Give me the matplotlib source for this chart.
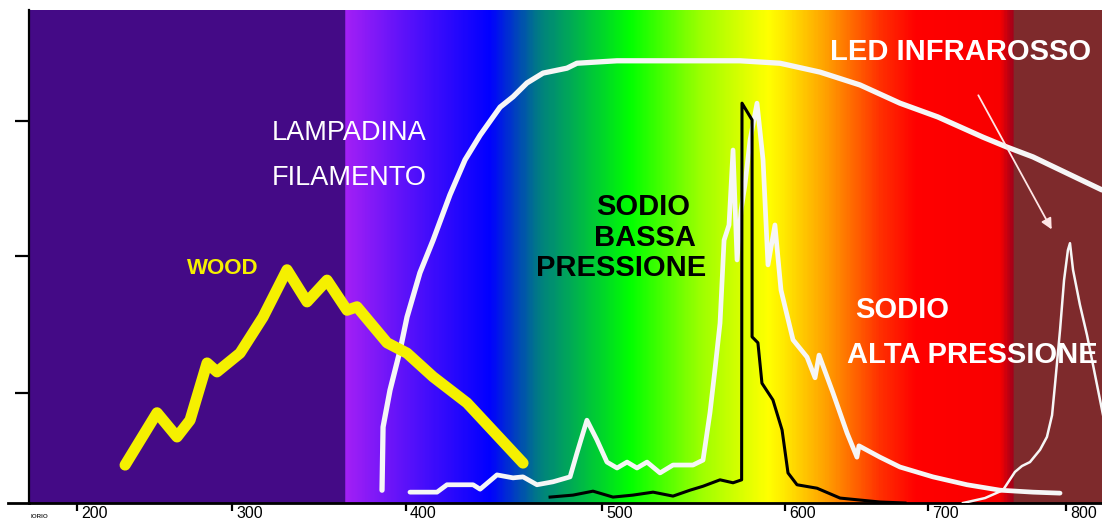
import numpy as np
import matplotlib
matplotlib.use('Agg')
import matplotlib.pyplot as plt
from matplotlib.colors import LinearSegmentedColormap, Normalize
from matplotlib.lines import Line2D
from matplotlib.transforms import ScaledTranslation

plt.rcParams['font.family'] = ['Liberation Sans', 'DejaVu Sans']

# wavelength axis of the drawing is not linear: tick values and where they sit
tick_nm = [200, 300, 400, 500, 600, 700, 800]
tick_labels = ['200', '300', '400', '500', '600', '700', '800']
tick_pos = [77, 232, 406, 602, 785, 928, 1066]

# spectra (nm, relative intensity 0..100)
wood_nm = [231.0, 251.6, 264.5, 272.9, 283.9, 290.3, 304.6, 317.8, 331.6, 343.1,
           354.6, 366.1, 371.8, 389.1, 400.5, 413.8, 431.1, 459.7]
wood_val = [7.7, 18.3, 13.4, 16.8, 28.4, 26.6, 30.4, 37.7, 47.3, 40.8,
            45.2, 39.1, 39.8, 32.5, 30.4, 25.6, 20.3, 8.1]

lampadina_nm = [386.2, 386.8, 390.8, 396.6, 400.5, 407.1, 413.8, 422.4, 430.1, 437.8,
                444.4, 448.0, 454.6, 461.7, 469.9, 482.1, 487.2, 508.2, 553.6, 575.4,
                597.3, 624.5, 652.4, 680.4, 707.2, 739.9, 757.2, 776.1, 800.7, 826.1]
lampadina_val = [2.6, 15.4, 22.9, 31.0, 37.7, 46.7, 53.3, 62.5, 69.6, 74.6,
                 78.3, 80.3, 82.4, 85.2, 87.2, 88.2, 89.2, 89.7, 89.7, 89.7,
                 89.2, 87.4, 84.8, 81.1, 78.3, 74.2, 72.2, 70.2, 66.9, 63.5]

sodio_alta_nm = [402.0, 415.8, 420.9, 434.2, 437.8, 446.4, 454.6, 459.7, 466.8, 475.0,
                 483.7, 487.2, 492.3, 497.4, 502.7, 508.2, 513.7, 519.1, 524.6, 531.7,
                 538.8, 549.7, 555.2, 559.0, 561.7, 564.5, 566.7, 569.4, 571.6, 573.8,
                 576.0, 578.1, 580.9, 584.7, 588.0, 590.7, 594.5, 597.8, 605.6, 615.4,
                 621.0, 623.8, 633.6, 643.4, 650.3, 651.7, 666.4, 680.4, 703.6, 728.3,
                 752.2, 776.1, 795.7]
sodio_alta_val = [2.2, 2.2, 3.7, 3.7, 2.8, 5.7, 5.1, 5.3, 3.7, 4.3,
                  5.3, 10.1, 16.8, 12.8, 8.3, 7.1, 8.3, 7.1, 8.3, 6.1,
                  7.7, 7.7, 8.7, 18.3, 27.0, 36.5, 53.3, 56.4, 71.6, 49.3,
                  59.4, 64.5, 73.6, 81.1, 69.6, 48.3, 56.4, 43.2, 33.1, 29.6,
                  25.4, 30.0, 22.3, 14.2, 9.3, 11.6, 9.3, 7.3, 5.3, 3.7,
                  2.6, 2.2, 2.0]

sodio_bassa_nm = [473.5, 485.2, 495.4, 506.0, 516.9, 527.9, 538.8, 548.1, 555.2, 564.5,
                  571.6, 576.3, 576.5, 582.0, 582.0, 585.2, 587.4, 593.4, 598.4, 602.1,
                  608.4, 622.4, 638.5, 652.4, 666.4, 683.9]
sodio_bassa_val = [1.2, 1.6, 2.4, 1.2, 1.6, 2.2, 1.4, 2.6, 3.4, 4.7,
                   4.1, 4.7, 81.1, 77.7, 33.7, 32.5, 24.3, 20.9, 14.8, 6.1,
                   3.7, 3.0, 1.0, 0.6, 0.2, 0.0]

led_nm = [725.4, 741.3, 754.3, 763.0, 768.1, 773.9, 781.2, 786.2, 789.9, 792.0,
          795.7, 798.6, 801.4, 802.9, 805.1, 810.1, 815.2, 819.6, 826.1, 830.4]
led_val = [0.0, 1.0, 2.6, 6.3, 7.5, 8.3, 10.8, 13.4, 17.8, 23.9,
           35.1, 45.2, 51.3, 52.7, 47.3, 40.2, 34.1, 28.0, 18.9, 12.8]

# colour band behind the curves
band_nm = [169, 365.4, 365.6, 442.9, 468.4, 515.3, 553.6, 590.7, 628.7, 666.4,
           691.6, 752.2, 761.5, 762.5, 826.1]
band_col = ['#440a86', '#440a86', '#a21ff5', '#0000ff', '#007f80', '#00ff00', '#9aff00',
            '#ffff00', '#ffa000', '#ff3000', '#ff0000', '#f80000', '#a50018', '#7e2a2c',
            '#7e2a2c']


def fwd(x):
    x = np.asarray(x, float)
    s0 = (tick_pos[1] - tick_pos[0]) / (tick_nm[1] - tick_nm[0])
    s1 = (tick_pos[-1] - tick_pos[-2]) / (tick_nm[-1] - tick_nm[-2])
    return np.where(x < tick_nm[0], tick_pos[0] + (x - tick_nm[0]) * s0,
                    np.where(x > tick_nm[-1], tick_pos[-1] + (x - tick_nm[-1]) * s1,
                             np.interp(x, tick_nm, tick_pos)))


def inv(p):
    p = np.asarray(p, float)
    s0 = (tick_nm[1] - tick_nm[0]) / (tick_pos[1] - tick_pos[0])
    s1 = (tick_nm[-1] - tick_nm[-2]) / (tick_pos[-1] - tick_pos[-2])
    return np.where(p < tick_pos[0], tick_nm[0] + (p - tick_pos[0]) * s0,
                    np.where(p > tick_pos[-1], tick_nm[-1] + (p - tick_pos[-1]) * s1,
                             np.interp(p, tick_pos, tick_nm)))


fig = plt.figure(figsize=(11.02, 5.21), dpi=100)
ax = fig.add_axes([29 / 1102, 18 / 521, 1073 / 1102, 493 / 521])
ax.set_xscale('function', functions=(fwd, inv))
x0, x1 = band_nm[0], band_nm[-1]
ax.set_xlim(x0, x1)
ax.set_ylim(0, 100)

# background spectrum
stops = [(v - x0) / (x1 - x0) for v in band_nm]
cmap = LinearSegmentedColormap.from_list('band', list(zip(stops, band_col)), N=1024)
xe = np.linspace(x0, x1, 1200)
xc = (xe[:-1] + xe[1:]) / 2
ax.pcolormesh(xe, [0, 100], xc[None, :], cmap=cmap, norm=Normalize(x0, x1),
              shading='flat', zorder=0)

white = '#f6f6f6'
ax.plot(lampadina_nm, lampadina_val, color=white, lw=3.8, solid_joinstyle='round',
        solid_capstyle='round', zorder=2)
ax.plot(sodio_alta_nm, sodio_alta_val, color=white, lw=3.4, solid_joinstyle='round',
        solid_capstyle='round', zorder=2)
ax.plot(led_nm, led_val, color=white, lw=1.8, zorder=3)
ax.plot(wood_nm, wood_val, color='#f5f000', lw=8, solid_joinstyle='round',
        solid_capstyle='round', zorder=3)
ax.plot(sodio_bassa_nm, sodio_bassa_val, color='black', lw=2.2, zorder=4)

ax.annotate('', xy=(790.6, 55.0), xytext=(735.5, 83.2),
            arrowprops=dict(arrowstyle='-|>', color='#ffe6e6', lw=1.3,
                            mutation_scale=16), zorder=5)

# labels
def lab(px, py, s, **kw):
    ax.text((px - 29) / 1073, (503 - py) / 493, s, transform=ax.transAxes,
            va='center', zorder=6, **kw)

lab(272, 133, 'LAMPADINA', color='white', fontsize=19.5, ha='left')
lab(272, 178, 'FILAMENTO', color='white', fontsize=19.5, ha='left')
lab(187, 268, 'WOOD', color='#f5f000', fontsize=16, fontweight='bold', ha='left')
lab(643, 207, 'SODIO', color='black', fontsize=21, fontweight='bold', ha='center')
lab(645, 238, 'BASSA', color='black', fontsize=21, fontweight='bold', ha='center')
lab(621, 268, 'PRESSIONE', color='black', fontsize=21, fontweight='bold', ha='center')
lab(855, 310, 'SODIO', color='white', fontsize=21, fontweight='bold', ha='left')
lab(847, 355, 'ALTA PRESSIONE', color='white', fontsize=21, fontweight='bold', ha='left')
lab(830, 52, 'LED INFRAROSSO', color='white', fontsize=21, fontweight='bold', ha='left')

# axes styling
for s in ['top', 'right']:
    ax.spines[s].set_visible(False)
ax.spines['left'].set_linewidth(1.6)
ax.spines['bottom'].set_linewidth(2.0)
ax.set_yticks([22.3, 50.1, 77.5])
ax.tick_params(axis='y', length=10, width=1.6, direction='out', labelleft=False)
ax.set_xticks(tick_nm, tick_labels, ha='left')
ax.minorticks_off()
ax.tick_params(axis='x', length=6, width=1.6, direction='out', pad=-3.5, labelsize=11.5)
off = ScaledTranslation(0.04, 0, fig.dpi_scale_trans)
for t in ax.get_xticklabels():
    t.set_transform(t.get_transform() + off)

fig.add_artist(Line2D([8 / 1102, 29 / 1102], [18 / 521, 18 / 521], color='black', lw=2.0))
fig.text(31 / 1102, 4 / 521, 'IORIO', fontsize=4.5, fontweight='bold', color='#333333',
         va='center')

fig.savefig('out.png', dpi=100)
